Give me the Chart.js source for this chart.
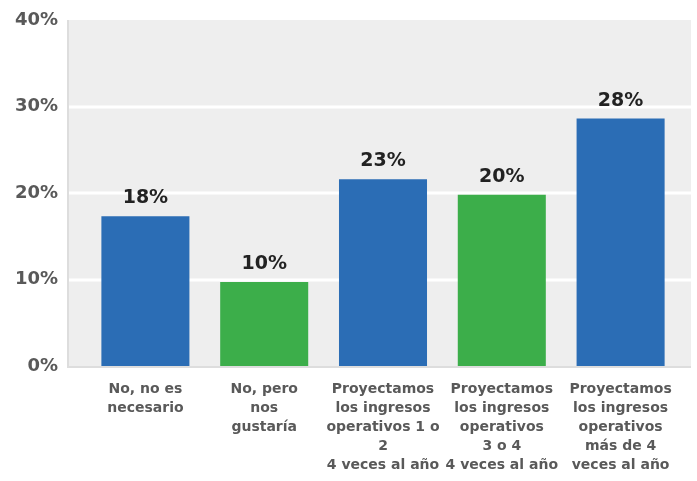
<!DOCTYPE html>
<html>
<head>
<meta charset="utf-8">
<script src="https://cdn.jsdelivr.net/npm/chart.js@4/dist/chart.umd.min.js"></script>
<style>
  html, body { margin: 0; padding: 0; background: #fff; }
  .graph-container { width: 697px; height: 481px; }
</style>
</head>
<body>
<div class="graph-container">
  <canvas id="chart"></canvas>
</div>
<script>
// datos
const categories = [
  ["No, no es", "necesario"],
  ["No, pero", "nos", "gustaría"],
  ["Proyectamos", "los ingresos", "operativos 1 o", "2", "4 veces al año"],
  ["Proyectamos", "los ingresos", "operativos", "3 o 4", "4 veces al año"],
  ["Proyectamos", "los ingresos", "operativos", "más de 4", "veces al año"]
];
const values = [17.3, 9.7, 21.6, 19.8, 28.6];
const valueLabels = ["18%", "10%", "23%", "20%", "28%"];
const barColors = ["#2b6db5", "#3cae4a", "#2b6db5", "#3cae4a", "#2b6db5"];
const yTicks = [0, 10, 20, 30, 40];

const FONT = "'DejaVu Sans', sans-serif";
const PAD_L = 17, PAD_R = 11; // el fondo gris sobresale del área de categorías

// fondo gris + líneas de cuadrícula blancas a lo ancho
const areaBg = {
  id: 'areaBg',
  beforeDatasetsDraw(chart) {
    const { ctx, chartArea: a } = chart;
    const y = chart.scales.y;
    const l = a.left - PAD_L, r = a.right + PAD_R;
    ctx.save();
    ctx.fillStyle = '#eeeeee';
    ctx.fillRect(l, a.top, r - l, a.bottom - a.top);
    ctx.strokeStyle = '#ffffff';
    ctx.lineWidth = 3;
    yTicks.slice(1, -1).forEach(v => {
      const py = Math.round(y.getPixelForValue(v));
      ctx.beginPath();
      ctx.moveTo(l, py);
      ctx.lineTo(r, py);
      ctx.stroke();
    });
    ctx.strokeStyle = '#dddddd';
    ctx.lineWidth = 2;
    ctx.beginPath();
    ctx.moveTo(l - 1, a.top);
    ctx.lineTo(l - 1, a.bottom + 1);
    ctx.lineTo(r, a.bottom + 1);
    ctx.stroke();
    ctx.restore();
  }
};

// etiquetas encima de las barras
const topLabels = {
  id: 'topLabels',
  afterDatasetsDraw(chart) {
    const { ctx } = chart;
    const meta = chart.getDatasetMeta(0);
    ctx.save();
    ctx.font = "bold 19px " + FONT;
    ctx.fillStyle = '#222222';
    ctx.textAlign = 'center';
    ctx.textBaseline = 'alphabetic';
    meta.data.forEach((bar, i) => {
      ctx.fillText(valueLabels[i], bar.x, bar.y - 13);
    });
    ctx.restore();
  }
};

new Chart(document.getElementById('chart').getContext('2d'), {
  type: 'bar',
  data: {
    labels: categories,
    datasets: [{
      data: values,
      backgroundColor: barColors,
      borderWidth: 0,
      barPercentage: 0.741,
      categoryPercentage: 1
    }]
  },
  options: {
    responsive: true,
    maintainAspectRatio: false,
    animation: false,
    layout: { padding: { top: 20, right: 17, left: 0, bottom: 0 } },
    plugins: {
      legend: { display: false },
      tooltip: { enabled: false }
    },
    scales: {
      y: {
        min: 0,
        max: 40,
        afterFit(scale) {
          scale.width = 86;
          scale.paddingTop = 12;
          scale.paddingBottom = 0;
        },
        afterBuildTicks(scale) { scale.ticks = yTicks.map(v => ({ value: v })); },
        ticks: {
          color: '#595959',
          padding: 28,
          font: { family: FONT, size: 18, weight: 'bold' },
          callback: v => v + '%'
        },
        grid: { display: false, drawTicks: false },
        border: { display: false }
      },
      x: {
        afterFit(scale) { scale.height = 115; },
        ticks: {
          color: '#595959',
          padding: 14,
          maxRotation: 0,
          autoSkip: false,
          font: { family: FONT, size: 14, weight: 'bold', lineHeight: 1.36 }
        },
        grid: { display: false, drawTicks: false },
        border: { display: false }
      }
    }
  },
  plugins: [areaBg, topLabels]
});
</script>
</body>
</html>
